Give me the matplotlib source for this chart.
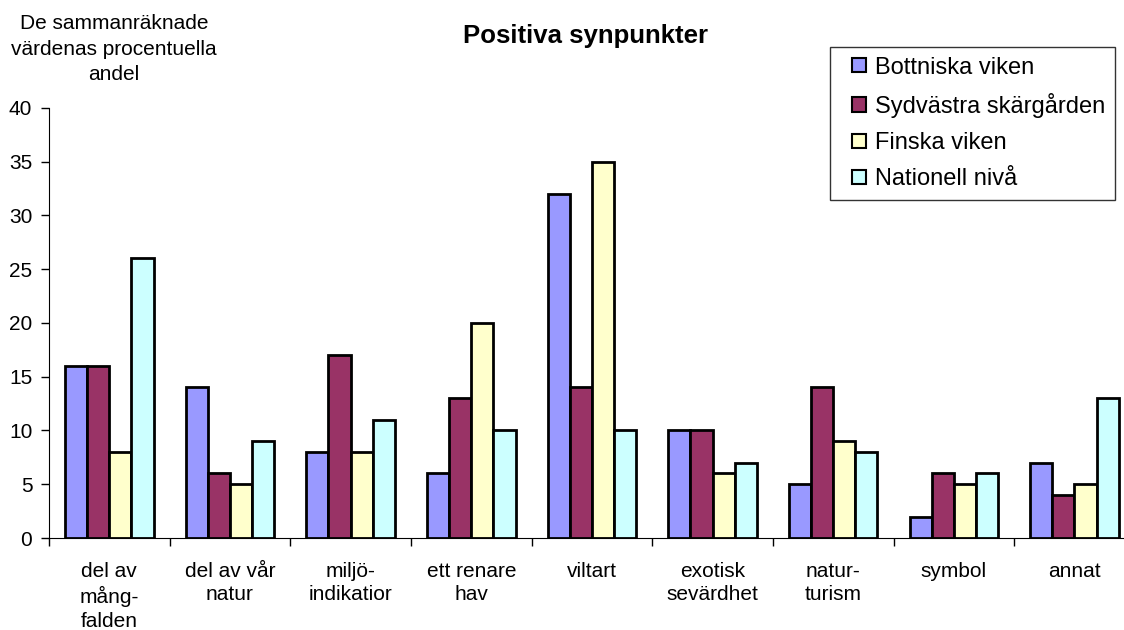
import matplotlib
matplotlib.use("Agg")
from matplotlib import pyplot as plt
from matplotlib.legend_handler import HandlerPatch
from matplotlib.patches import Rectangle
import numpy as np

plt.rcParams['font.family'] = ['Liberation Sans', 'DejaVu Sans']

categories = ["del av\nmång-\nfalden", "del av vår\nnatur", "miljö-\nindikatior", "ett renare\nhav",
              "viltart", "exotisk\nsevärdhet", "natur-\nturism", "symbol", "annat"]
series_names = ["Bottniska viken", "Sydvästra skärgården", "Finska viken", "Nationell nivå"]
bottniska = [16, 14, 8, 6, 32, 10, 5, 2, 7]
sydvastra = [16, 6, 17, 13, 14, 10, 14, 6, 4]
finska = [8, 5, 8, 20, 35, 6, 9, 5, 5]
nationell = [26, 9, 11, 10, 10, 7, 8, 6, 13]
colors = ["#9999FF", "#993366", "#FFFFCC", "#CCFFFF"]


# small square key, pushed to the right end of the handle box
def square_key(legend, orig_handle, xdescent, ydescent, width, height, fontsize):
    return Rectangle((width - height - xdescent, -ydescent), height, height)


fig = plt.figure(figsize=(11.24, 6.3), dpi=100)
ax = fig.add_axes([0.0436, 0.146, 0.966, 0.683])

x = np.arange(len(categories))
w = 0.1835
bars = []
for i, (vals, name) in enumerate(zip([bottniska, sydvastra, finska, nationell], series_names)):
    b = ax.bar(x + (i - 1.5) * w, vals, width=w, color=colors[i], edgecolor="black",
               linewidth=2, label=name)
    bars.append(b)

ax.set_xlim(-0.5, len(categories) - 0.5)
ax.set_ylim(0, 40)
ax.set_yticks(range(0, 41, 5))
ax.set_xticks(x)
ax.set_xticklabels(categories, fontsize=15, va="top", linespacing=1.32)
ax.set_xticks(np.arange(-0.5, len(categories)), minor=True)
ax.tick_params(axis="x", which="major", length=0, pad=17)
ax.tick_params(axis="x", which="minor", length=6, direction="out", width=1)
ax.tick_params(axis="y", length=6, direction="out", labelsize=15, width=1, pad=6)
for s in ["top", "right"]:
    ax.spines[s].set_visible(False)

fig.text(0.1015, 0.977, "De sammanräknade\nvärdenas procentuella\nandel", ha="center", va="top",
         fontsize=15, linespacing=1.42)
fig.text(0.5205, 0.943, "Positiva synpunkter", ha="center", va="center", fontsize=18.5, fontweight="bold")

leg = ax.legend([b.patches[0] for b in bars], series_names,
                loc="upper left", bbox_to_anchor=(0.7385, 0.925), bbox_transform=fig.transFigure,
                fontsize=17, frameon=True, fancybox=False, edgecolor="black",
                handlelength=1.12, handleheight=0.55, handletextpad=0.4, labelspacing=0.6,
                borderpad=0.4, borderaxespad=0,
                handler_map={Rectangle: HandlerPatch(patch_func=square_key)})
leg.get_frame().set_linewidth(1)
for h in leg.legend_handles:
    h.set_linewidth(1.5)

fig.savefig("out.png", dpi=100)
